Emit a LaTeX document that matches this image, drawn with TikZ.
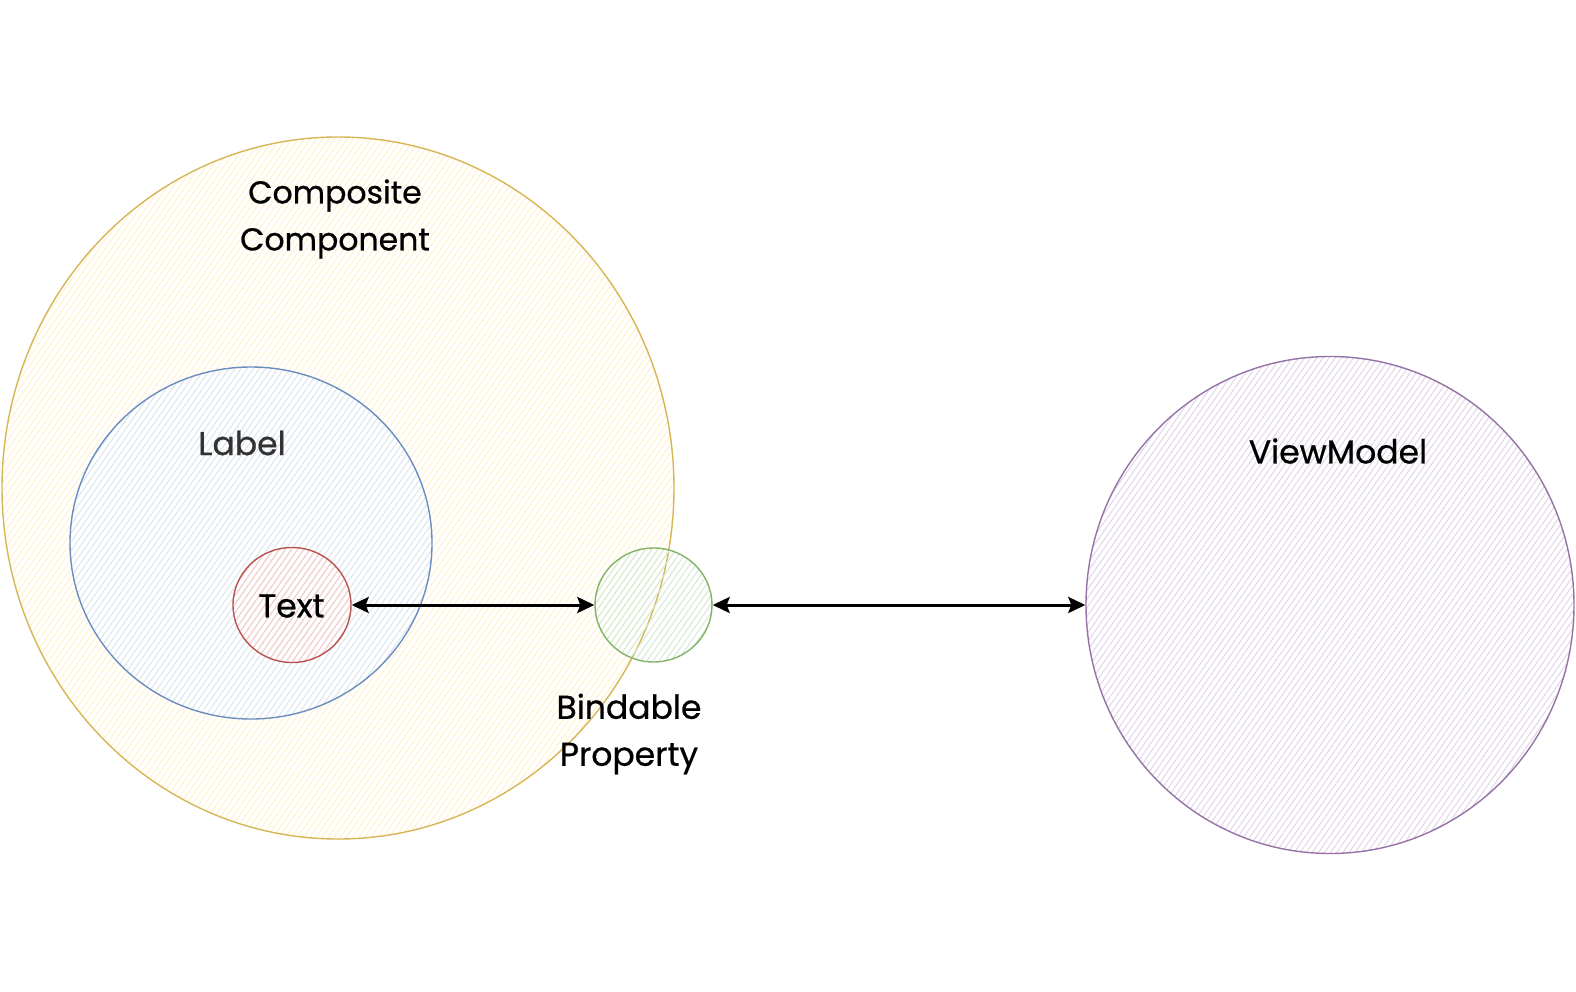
\documentclass[tikz,border=0pt]{standalone}
\usepackage{fontspec}
\setmainfont{Poppins}
\newfontfamily\lblfont{Poppins}[FakeBold=0.7]
\usetikzlibrary{shapes.geometric,arrows.meta,patterns.meta}
\definecolor{yelS}{HTML}{D6B656}\definecolor{yelF}{HTML}{FFF2CC}
\definecolor{bluS}{HTML}{6C8EBF}\definecolor{bluF}{HTML}{DAE8FC}
\definecolor{redS}{HTML}{B85450}\definecolor{redF}{HTML}{F8CECC}
\definecolor{grnS}{HTML}{82B366}\definecolor{grnF}{HTML}{D5E8D4}
\definecolor{purS}{HTML}{9673A6}\definecolor{purF}{HTML}{E1D5E7}
\tikzset{
  blob/.style={ellipse, inner sep=0pt, line width=1.4pt},
  lbl/.style={font=\lblfont\fontsize{33}{47}\selectfont, align=center, text=black, inner sep=0pt},
  connarrow/.style={draw=black, line width=3pt, {Stealth[length=17pt,width=16pt,inset=3pt]}-{Stealth[length=17pt,width=16pt,inset=3pt]}}
}
\begin{document}
\begin{tikzpicture}[x=1pt,y=-1pt]
\useasboundingbox (0,0) rectangle (1576,992);
\fill[white] (0,0) rectangle (1576,992);
% composite
\node[blob, draw=yelS, fill=yelF!45, pattern color=yelF,
      pattern={Lines[angle=55,distance=5pt,line width=1pt]},
      minimum width=672pt, minimum height=702pt] (comp) at (338,488) {};
\node[blob, draw=bluS, fill=bluF!40, fill opacity=0.8, pattern color=bluF,
      pattern={Lines[angle=55,distance=5pt,line width=1pt]},
      minimum width=362pt, minimum height=352pt] (label) at (251,543) {};
\node[blob, draw=redS, fill=redF!45, pattern color=redF,
      pattern={Lines[angle=55,distance=5pt,line width=1pt]},
      minimum width=118pt, minimum height=115pt] (text) at (292,605) {};
\node[blob, draw=grnS, fill=grnF!35, fill opacity=0.7, pattern color=grnF,
      pattern={Lines[angle=55,distance=5pt,line width=1pt]},
      minimum width=117pt, minimum height=114pt] (bind) at (653.5,605) {};
\node[blob, draw=purS, fill=purF!30, pattern color=purF,
      pattern={Lines[angle=55,distance=5pt,line width=1pt]},
      minimum width=488pt, minimum height=497pt] (vm) at (1330,605) {};
% labels
\node[lbl, font=\lblfont\fontsize{31.5}{47}\selectfont] (tcomp) at (335,219) {Composite\\Component};
\node[lbl, text=black!80] (tlabel) at (242,443) {Label};
\node[lbl] (ttext) at (291.5,606) {Text};
\node[lbl] (tbind) at (629,734) {Bindable\\Property};
\node[lbl] (tvm) at (1338,451) {ViewModel};
% connectors
\draw[connarrow] (text.east) -- (bind.west);
\draw[connarrow] (bind.east) -- (vm.west);
\end{tikzpicture}
\end{document}
